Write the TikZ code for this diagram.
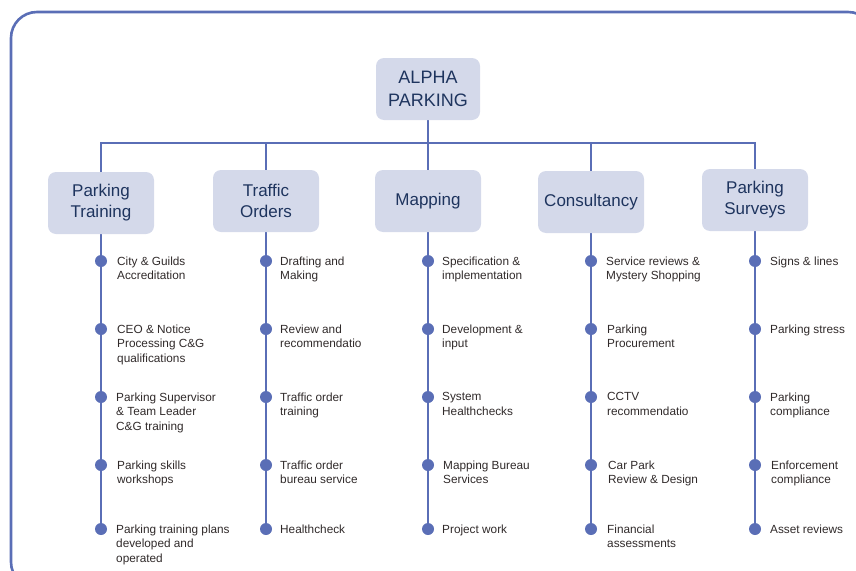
\documentclass[tikz,border=0pt]{standalone}
\usepackage{fontspec}
\setmainfont{Liberation Sans}
\usetikzlibrary{backgrounds}

\definecolor{linkblue}{RGB}{90,110,182}
\definecolor{boxfill}{RGB}{212,217,234}
\definecolor{headtext}{RGB}{30,52,94}
\definecolor{itemtext}{RGB}{48,42,42}

\begin{document}
\begin{tikzpicture}[x=1pt,y=-1pt,
  catbox/.style={fill=boxfill, rounded corners=8pt, minimum width=106pt,
    minimum height=62pt, align=center, text=headtext, inner sep=0pt,
    font=\fontsize{17}{21}\selectfont},
  rootbox/.style={catbox, minimum width=104pt, font=\fontsize{18}{23}\selectfont},
  link/.style={draw=linkblue, line width=2.8pt},
  dot/.style={circle, fill=linkblue, minimum size=12pt, inner sep=0pt},
  item/.style={anchor=north west, align=left, inner sep=0pt, text=itemtext,
    font=\fontsize{11.8}{14.6}\selectfont,
    execute at begin node={\rule{0pt}{9pt}}},
]
\useasboundingbox (0,0) rectangle (856,570);

% outer frame, partly running past the page edges
\begin{scope}
  \clip (0,0) rectangle (856,570);
  \draw[linkblue, line width=2.6pt, rounded corners=26pt] (11,12) rectangle (874,588);
\end{scope}

% root and category boxes
\node[rootbox] (root) at (428,89) {ALPHA\\PARKING};
\coordinate (bus) at (428,143);
\node[catbox] (h1) at (101,203) {Parking\\Training};
\node[catbox] (h2) at (266,201) {Traffic\\Orders};
\node[catbox] (h3) at (428,201) {Mapping};
\node[catbox] (h4) at (591,202) {Consultancy};
\node[catbox] (h5) at (755,200) {Parking\\Surveys};

% bullet dots of every column
\foreach \c/\x in {1/101,2/266,3/428,4/591,5/755}{
  \foreach \r/\y in {1/261,2/329,3/397,4/465,5/529}{
    \node[dot] (d\c\r) at (\x,\y) {};
  }
}

% connectors
\begin{scope}[on background layer]
  \draw[link] (root.south) -- (bus);
  \draw[link] (bus) -| (h1.north);
  \draw[link] (bus) -| (h2.north);
  \draw[link] (bus) -- (h3.north);
  \draw[link] (bus) -| (h4.north);
  \draw[link] (bus) -| (h5.north);
  \foreach \c in {1,...,5}{
    \draw[link] (h\c.south) -- (d\c5.center);
  }
\end{scope}

% Parking Training
\path (d11) ++(16,-4.5) node[item] (t11) {City \& Guilds\\Accreditation};
\path (d12) ++(16,-4.5) node[item] (t12) {CEO \& Notice\\Processing C\&G\\qualifications};
\path (d13) ++(15,-4.5) node[item] (t13) {Parking Supervisor\\\& Team Leader\\C\&G training};
\path (d14) ++(16,-4.5) node[item] (t14) {Parking skills\\workshops};
\path (d15) ++(15,-4.5) node[item] (t15) {Parking training plans\\developed and\\operated};

% Traffic Orders
\path (d21) ++(14,-4.5) node[item] (t21) {Drafting and\\Making};
\path (d22) ++(14,-4.5) node[item] (t22) {Review and\\recommendatio};
\path (d23) ++(14,-4.5) node[item] (t23) {Traffic order\\training};
\path (d24) ++(14,-4.5) node[item] (t24) {Traffic order\\bureau service};
\path (d25) ++(14,-4.5) node[item] (t25) {Healthcheck};

% Mapping
\path (d31) ++(14,-4.5) node[item] (t31) {Specification \&\\implementation};
\path (d32) ++(14,-4.5) node[item] (t32) {Development \&\\input};
\path (d33) ++(14,-4.5) node[item] (t33) {System\\Healthchecks};
\path (d34) ++(15,-4.5) node[item] (t34) {Mapping Bureau\\Services};
\path (d35) ++(14,-4.5) node[item] (t35) {Project work};

% Consultancy
\path (d41) ++(15,-4.5) node[item] (t41) {Service reviews \&\\Mystery Shopping};
\path (d42) ++(16,-4.5) node[item] (t42) {Parking\\Procurement};
\path (d43) ++(16,-4.5) node[item] (t43) {CCTV\\recommendatio};
\path (d44) ++(17,-4.5) node[item] (t44) {Car Park\\Review \& Design};
\path (d45) ++(16,-4.5) node[item] (t45) {Financial\\assessments};

% Parking Surveys
\path (d51) ++(15,-4.5) node[item] (t51) {Signs \& lines};
\path (d52) ++(15,-4.5) node[item] (t52) {Parking stress};
\path (d53) ++(15,-4.5) node[item] (t53) {Parking\\compliance};
\path (d54) ++(16,-4.5) node[item] (t54) {Enforcement\\compliance};
\path (d55) ++(15,-4.5) node[item] (t55) {Asset reviews};
\end{tikzpicture}
\end{document}
